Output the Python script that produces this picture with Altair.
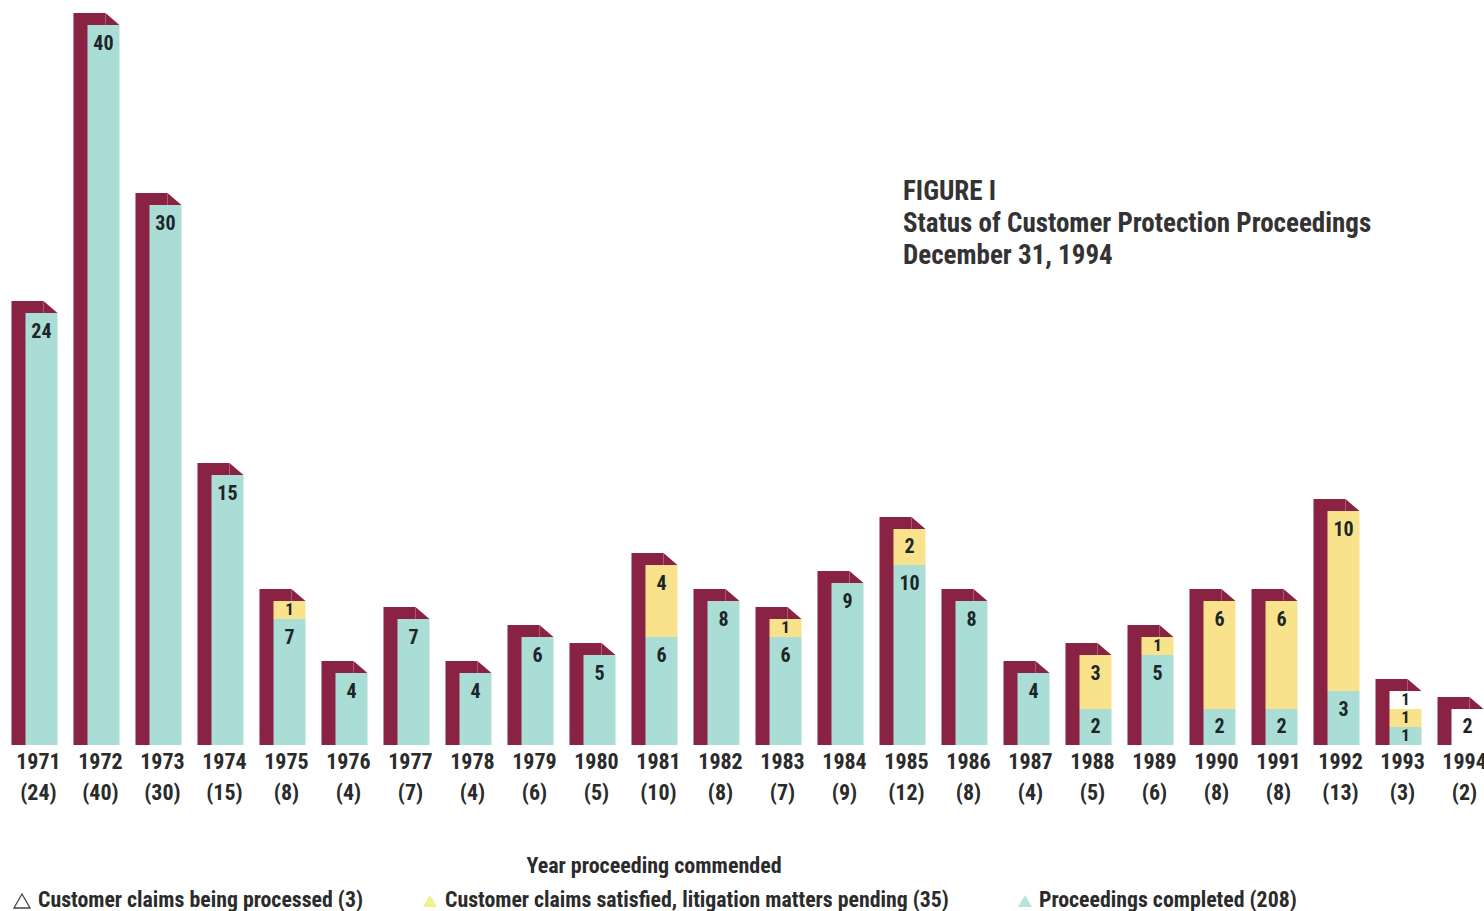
import altair as alt
import pandas as pd

# ---- data ----
years = list(range(1971, 1995))
completed = [24, 40, 30, 15, 7, 4, 7, 4, 6, 5, 6, 8, 6, 9, 10, 8, 4, 2, 5, 2, 2, 3, 1, 0]
satisfied = [0, 0, 0, 0, 1, 0, 0, 0, 0, 0, 4, 0, 1, 0, 2, 0, 0, 3, 1, 6, 6, 10, 1, 0]
processing = [0] * 22 + [1, 2]

series_names = ["completed", "satisfied", "processing"]
series_colors = ["#A9DDD6", "#F8E38C", "#FFFFFF"]
legend_labels = [
    "Customer claims being processed (3)",
    "Customer claims satisfied, litigation matters pending (35)",
    "Proceedings completed (208)",
]
title_lines = ["FIGURE I", "Status of Customer Protection Proceedings", "December 31, 1994"]
axis_title = "Year proceeding commended"

MAROON = "#8A2343"
TEXT = "#2b2b2b"
FONT = "Roboto Condensed, Liberation Sans Narrow, Roboto, sans-serif"

# ---- tables built from the arrays ----
totals = [c + s + p for c, s, p in zip(completed, satisfied, processing)]
tot_df = pd.DataFrame({"year": years, "total": totals, "zero": [0] * len(years),
                       "lab": [f"({t})" for t in totals]})

rows = []
for i, y in enumerate(years):
    base = 0
    for name, vals in zip(series_names, [completed, satisfied, processing]):
        v = vals[i]
        if v > 0:
            top = base + v
            off = 1.05 if v >= 2.1 else v / 2
            rows.append({"year": y, "series": name, "y0": base, "y1": top, "v": v,
                         "val": str(v), "ly": top - off})
            base = top
seg_df = pd.DataFrame(rows)

xs = alt.Scale(domain=[1970.331, 1994.266], nice=False, zero=False, padding=0)
ys = alt.Scale(domain=[-9.222, 41.389], nice=False, zero=False, padding=0)
X = alt.X("year:Q", scale=xs, axis=None)
color = alt.Color("series:N", scale=alt.Scale(domain=series_names, range=series_colors), legend=None)

BW = 32
DX, DY = 14, 12

shadow = alt.Chart(tot_df).mark_bar(size=BW, color=MAROON, xOffset=-DX, yOffset=-DY).encode(
    x=X, y=alt.Y("total:Q", scale=ys, axis=None), y2="zero:Q")

top_tri = alt.Chart(tot_df).mark_point(
    shape="M -1 -0.857 L 1 0.857 L -1 0.857 Z", size=196, filled=True, opacity=1,
    color=MAROON, xOffset=BW / 2 - DX / 2, yOffset=-DY / 2).encode(
    x=X, y=alt.Y("total:Q", scale=ys, axis=None))

bot_tri = alt.Chart(tot_df).mark_point(
    shape="M -1 -0.857 L 1 -0.857 L 1 0.857 Z", size=196, filled=True, opacity=1,
    color=MAROON, xOffset=-BW / 2 - DX / 2, yOffset=-DY / 2).encode(
    x=X, y=alt.Y("zero:Q", scale=ys, axis=None))

front = alt.Chart(seg_df).mark_bar(size=BW).encode(
    x=X, y=alt.Y("y1:Q", scale=ys, axis=None), y2="y0:Q", color=color)

seg_text_big = alt.Chart(seg_df).transform_filter("datum.v >= 2").mark_text(
    font=FONT, fontSize=20, fontWeight="bold", color="#1d2626", baseline="middle").encode(
    x=X, y=alt.Y("ly:Q", scale=ys, axis=None), text="val:N")

seg_text_small = alt.Chart(seg_df).transform_filter("datum.v < 2").mark_text(
    font=FONT, fontSize=17, fontWeight="bold", color="#1d2626", baseline="middle").encode(
    x=X, y=alt.Y("ly:Q", scale=ys, axis=None), text="val:N")

year_text = alt.Chart(tot_df).mark_text(font=FONT, fontSize=22, fontWeight="bold", color=TEXT,
                                        baseline="middle", dy=17, dx=-3).encode(
    x=X, y=alt.Y("zero:Q", scale=ys, axis=None), text="year:N")

count_text = alt.Chart(tot_df).mark_text(font=FONT, fontSize=22, fontWeight="bold", color=TEXT,
                                         baseline="middle", dy=48, dx=-3).encode(
    x=X, y=alt.Y("zero:Q", scale=ys, axis=None), text="lab:N")

one = pd.DataFrame({"a": [0]})

title = alt.Chart(one).mark_text(font=FONT, fontSize=27, fontWeight="bold", color="#333333",
                                 align="left", baseline="top", lineHeight=32,
                                 text=title_lines).encode(x=alt.value(903), y=alt.value(179))

xtitle = alt.Chart(one).mark_text(font=FONT, fontSize=22, fontWeight="bold", color=TEXT,
                                  align="center", baseline="middle", text=axis_title).encode(
    x=alt.value(654), y=alt.value(866))

leg_layers = []
leg_sym_x = [22, 430, 1025]
leg_txt_x = [38, 445, 1039]
leg_fill = [None, "#EEF28A", "#B9E3DA"]
for lx, tx, lab, fc in zip(leg_sym_x, leg_txt_x, legend_labels, leg_fill):
    if fc is None:
        sym = alt.Chart(one).mark_point(shape="triangle-up", size=260, filled=False,
                                        stroke="#444444", strokeWidth=1.3, opacity=1)
    else:
        sym = alt.Chart(one).mark_point(shape="triangle-up", size=200, filled=True,
                                        color=fc, opacity=1)
    leg_layers.append(sym.encode(x=alt.value(lx), y=alt.value(901)))
    leg_layers.append(alt.Chart(one).mark_text(font=FONT, fontSize=21.8, fontWeight="bold", color=TEXT,
                                               align="left", baseline="middle", text=lab).encode(
        x=alt.value(tx), y=alt.value(900)))

chart = alt.layer(shadow, top_tri, bot_tri, front, seg_text_big, seg_text_small, year_text, count_text,
                  title, xtitle, *leg_layers).properties(
    width=1484, height=911, padding=0, autosize=alt.AutoSizeParams(type="none"),
    background="white").configure_view(stroke=None)

chart.save("out.html", embed_options={"renderer": "svg", "actions": False})
